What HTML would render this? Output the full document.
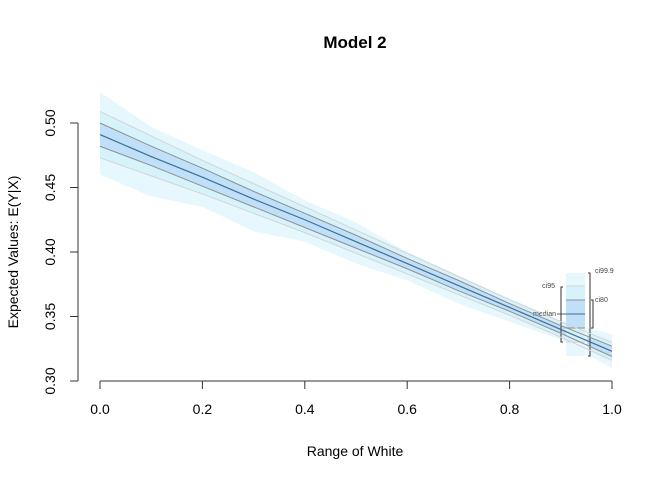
<!DOCTYPE html>
<html><head><meta charset="utf-8"><style>
body{margin:0;background:#fff;}
svg{display:block;font-family:"Liberation Sans",Arial,sans-serif;}
</style></head><body>
<svg id="chart" width="672" height="480" viewBox="0 0 672 480" xmlns="http://www.w3.org/2000/svg">
<text x="355" y="48" text-anchor="middle" font-size="17" font-weight="bold">Model 2</text>
<text x="355" y="456" text-anchor="middle" font-size="14">Range of White</text>
<text transform="translate(18,252) rotate(-90)" text-anchor="middle" font-size="14">Expected Values: E(Y|X)</text>
<g id="bands"></g>
<g id="legend"></g>
<g id="lines"></g>
<g id="axes"></g>
</svg>
<script>
const xs = [0,0.1,0.2,0.3,0.4,0.5,0.6,0.7,0.8,0.9,1.0];
const median = [0.491,0.474,0.458,0.441,0.425,0.408,0.391,0.374,0.357,0.340,0.323];
const ci80Lo = [0.482,0.467,0.451,0.435,0.419,0.403,0.387,0.370,0.354,0.337,0.319];
const ci80Hi = [0.500,0.482,0.465,0.447,0.430,0.413,0.395,0.378,0.360,0.343,0.327];
const ci95Lo = [0.473,0.459,0.445,0.430,0.415,0.399,0.383,0.367,0.351,0.334,0.316];
const ci95Hi = [0.509,0.490,0.471,0.453,0.435,0.417,0.399,0.381,0.363,0.346,0.330];
const ci999Lo = [0.460,0.443,0.435,0.416,0.408,0.391,0.378,0.360,0.346,0.332,0.310];
const ci999Hi = [0.524,0.497,0.479,0.462,0.440,0.423,0.400,0.382,0.364,0.347,0.336];
const xTicks = [0,0.2,0.4,0.6,0.8,1.0];
const yTicks = [0.30,0.35,0.40,0.45,0.50];

const X = v => 100 + v*512;
const Y = v => 381 - (v-0.30)*1290;
const NS = "http://www.w3.org/2000/svg";
function mk(tag, attrs, parent){const e=document.createElementNS(NS,tag);for(const k in attrs)e.setAttribute(k,attrs[k]);parent.appendChild(e);return e;}
const bands=document.getElementById('bands'), lines=document.getElementById('lines'), axes=document.getElementById('axes'), lg=document.getElementById('legend');
function band(lo,hi,fill,name){
  let d='M'+xs.map((x,i)=>X(x)+','+Y(hi[i])).join('L')+'L'+xs.map((x,i)=>X(x)+','+Y(lo[i])).reverse().join('L')+'Z';
  const p=mk('path',{d:d,fill:fill},bands);
  
  
}
function line(arr,stroke,name,w){
  const p=mk('path',{d:'M'+xs.map((x,i)=>X(x)+','+Y(arr[i])).join('L'),fill:'none',stroke:stroke,'stroke-width':w||1},lines);
  
  
}
band(ci999Lo,ci999Hi,'#e6f8fe','ci999-band');
band(ci95Lo,ci95Hi,'#d6f3fc','ci95-band');
band(ci80Lo,ci80Hi,'#bfe0f8','ci80-band');
line(ci95Lo,'#d4d4d4','ci95-lower-line');
line(ci95Hi,'#d4d4d4','ci95-upper-line');
line(ci80Lo,'#8f8f8f','ci80-lower-line');
line(ci80Hi,'#8f8f8f','ci80-upper-line');
line(median,'#3f6e94','median-line',1.2);

const xa=mk('line',{x1:X(0),x2:X(1),y1:381,y2:381,stroke:'#333'},axes);


xTicks.forEach(t=>{
  mk('line',{x1:X(t),x2:X(t),y1:381,y2:389,stroke:'#333'},axes);
  const tx=mk('text',{x:X(t),y:414,'text-anchor':'middle','font-size':14},axes);
  tx.textContent=t.toFixed(1);
  
  
});
const ya=mk('line',{x1:78,x2:78,y1:Y(0.30),y2:Y(0.50),stroke:'#333'},axes);


yTicks.forEach(t=>{
  mk('line',{x1:70,x2:78,y1:Y(t),y2:Y(t),stroke:'#333'},axes);
  const tx=mk('text',{transform:`translate(55,${Y(t)}) rotate(-90)`,'text-anchor':'middle','font-size':14},axes);
  tx.textContent=t.toFixed(2);
  
  
});

mk('rect',{x:566,y:273,width:19,height:83,fill:'#e6f8fe'},lg);
mk('rect',{x:566,y:286,width:19,height:56,fill:'#d6f3fc'},lg);
mk('rect',{x:566,y:300,width:19,height:28,fill:'#bfe0f8'},lg);
mk('line',{x1:566,x2:585,y1:286,y2:286,stroke:'#d4d4d4'},lg);
mk('line',{x1:566,x2:585,y1:342,y2:342,stroke:'#d4d4d4'},lg);
mk('line',{x1:566,x2:585,y1:300,y2:300,stroke:'#8f8f8f'},lg);
mk('line',{x1:566,x2:585,y1:328,y2:328,stroke:'#8f8f8f'},lg);
mk('line',{x1:557,x2:585,y1:314,y2:314,stroke:'#3f6e94'},lg);
mk('line',{x1:586,x2:586,y1:273,y2:356,stroke:'#fff','stroke-width':1.5},lg);
mk('path',{d:'M563,287H561V342H563',fill:'none',stroke:'#333'},lg);
mk('path',{d:'M588,273H590V356H588',fill:'none',stroke:'#333'},lg);
mk('path',{d:'M591,300H593V328H591',fill:'none',stroke:'#333'},lg);
[['ci95',555,288,'end'],['median',556,316,'end'],['ci99.9',595,273,'start'],['ci80',595,302,'start']].forEach(a=>{
  const t=mk('text',{x:a[1],y:a[2],'text-anchor':a[3],'font-size':7,fill:'#444'},lg);
  t.textContent=a[0];
  
  
});
</script>
</body></html>
